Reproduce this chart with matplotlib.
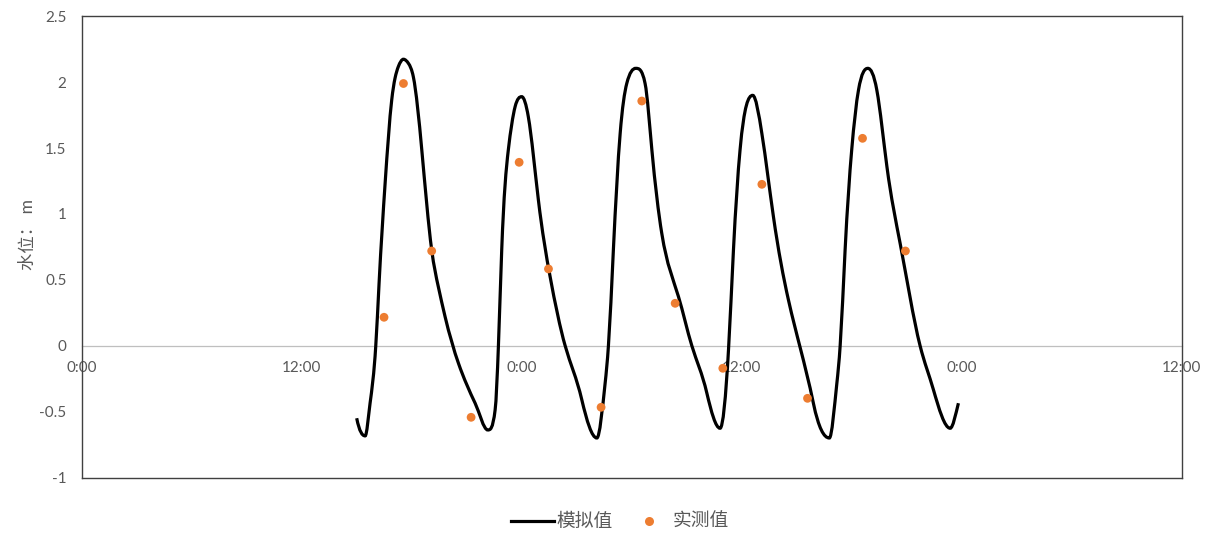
import matplotlib
matplotlib.use("Agg")
import matplotlib.pyplot as plt
import numpy as np
from matplotlib.path import Path
from matplotlib.patches import PathPatch
from matplotlib.lines import Line2D

plt.rcParams['font.family'] = ['Lato', 'Noto Sans CJK SC', 'DejaVu Sans']

# --- simulated water level (hours from first 0:00, m) ---
sim_hours = [15.0, 15.46, 15.73, 16.04, 16.22, 16.55, 16.91, 17.09, 17.27, 17.55,
             17.82, 18.09, 18.55, 19.09, 19.45, 19.82, 20.55, 21.46, 22.15, 22.55,
             22.73, 22.91, 23.27, 23.64, 24.0, 24.36, 24.91, 25.55, 26.37, 27.28,
             28.1, 28.55, 28.73, 29.0, 29.37, 29.73, 30.22, 30.73, 31.1, 31.64,
             32.55, 33.28, 34.1, 34.82, 35.28, 35.55, 35.91, 36.6, 37.1, 37.73,
             38.55, 39.2, 39.91, 40.78, 41.19, 41.37, 41.64, 42.0, 42.37, 42.88,
             43.37, 43.92, 44.64, 45.73, 46.46, 47.37, 47.82]
sim_level = [-0.55, -0.684, -0.435, 0.0, 0.474, 1.233, 1.865, 2.03, 2.118, 2.174,
             2.143, 2.04, 1.486, 0.727, 0.449, 0.221, -0.133, -0.436, -0.639, -0.487,
             0.0, 0.727, 1.486, 1.814, 1.89, 1.738, 1.106, 0.524, 0.0, -0.411,
             -0.70, -0.285, 0.0, 0.727, 1.61, 1.99, 2.105, 1.99, 1.486, 0.853,
             0.373, 0.0, -0.36, -0.626, -0.03, 0.727, 1.486, 1.90, 1.61, 0.98,
             0.347, -0.02, -0.436, -0.70, -0.285, 0.0, 0.727, 1.486, 1.94, 2.105,
             1.94, 1.36, 0.778, 0.0, -0.335, -0.626, -0.436]

# --- measured water level ---
obs_hours = [16.49, 17.55, 19.09, 21.24, 23.86, 25.46, 28.33, 30.55, 32.37, 34.97,
             37.1, 39.59, 42.59, 44.93]
obs_level = [0.216, 1.99, 0.719, -0.543, 1.392, 0.583, -0.467, 1.857, 0.322, -0.171,
             1.225, -0.399, 1.574, 0.719]

xtick_pos = [0, 12, 24, 36, 48, 60]
xtick_labels = ["0:00", "12:00", "0:00", "12:00", "0:00", "12:00"]
ytick_pos = [-1, -0.5, 0, 0.5, 1, 1.5, 2, 2.5]
ytick_labels = ["-1", "-0.5", "0", "0.5", "1", "1.5", "2", "2.5"]

tick_color = "#595959"
orange = "#ED7D31"

fig = plt.figure(figsize=(12.14, 5.36), dpi=100)
ax = fig.add_axes([0.0673, 0.1091, 0.9061, 0.8605])
ax.set_xlim(0, 60)
ax.set_ylim(-1, 2.5)

# smooth line through the readings: cubic spline slopes with a monotonicity
# filter (no wiggles between readings), drawn as Bezier segments
x = np.asarray(sim_hours)
y = np.asarray(sim_level)
n = len(x)
h = np.diff(x)
d = np.diff(y) / h
A = np.zeros((n, n))
r = np.zeros(n)
A[0, 0] = A[-1, -1] = 1.0
for i in range(1, n - 1):
    A[i, i - 1] = h[i - 1]
    A[i, i] = 2 * (h[i - 1] + h[i])
    A[i, i + 1] = h[i]
    r[i] = 6 * (d[i] - d[i - 1])
M = np.linalg.solve(A, r)
m = np.empty(n)
m[:-1] = d - h * (2 * M[:-1] + M[1:]) / 6
m[-1] = d[-1] + h[-1] * (M[-2] + 2 * M[-1]) / 6
for i in range(n):
    left = d[i - 1] if i > 0 else d[0]
    right = d[i] if i < n - 1 else d[-1]
    if left * right <= 0:
        m[i] = 0.0
    elif m[i] * right <= 0:
        m[i] = 0.0
    else:
        lim = 3 * min(abs(left), abs(right))
        m[i] = np.sign(right) * min(abs(m[i]), lim)
verts = [(x[0], y[0])]
codes = [Path.MOVETO]
for i in range(n - 1):
    verts += [(x[i] + h[i] / 3, y[i] + m[i] * h[i] / 3),
              (x[i + 1] - h[i] / 3, y[i + 1] - m[i + 1] * h[i] / 3),
              (x[i + 1], y[i + 1])]
    codes += [Path.CURVE4] * 3
ax.add_patch(PathPatch(Path(verts, codes), facecolor="none", edgecolor="black",
                       lw=2.3, zorder=3))

ax.scatter(obs_hours, obs_level, s=40, color=orange, edgecolors="none", zorder=4)

for sp in ax.spines.values():
    sp.set_color("#404040")
    sp.set_linewidth(1.0)

ax.set_xticks([])
ax.set_yticks(ytick_pos)
ax.set_yticklabels(ytick_labels)
ax.tick_params(axis="y", length=0, pad=11, labelsize=11, labelcolor=tick_color)

# horizontal axis crossing at 0
sec = ax.secondary_xaxis(0, transform=ax.transData)
sec.spines["bottom"].set_color("#bfbfbf")
sec.spines["bottom"].set_linewidth(0.9)
sec.set_xticks(xtick_pos)
sec.set_xticklabels(xtick_labels)
sec.tick_params(axis="x", length=0, pad=11, labelsize=11, labelcolor=tick_color)

ax.set_ylabel("水位： m", fontsize=12.5, color=tick_color)
ax.yaxis.set_label_coords(-0.0415, 0.526)

handles = [Line2D([], [], color="black", lw=2.3),
           Line2D([], [], color=orange, marker="o", markersize=6.5,
                  markeredgewidth=0, linestyle="none")]
fig.legend(handles, ["模拟值", "实测值"], loc="center", bbox_to_anchor=(0.5105, 0.027),
           ncol=2, frameon=False, fontsize=13.5, handlelength=2.3, handletextpad=0.1,
           columnspacing=0.8, labelcolor=tick_color)

fig.savefig("out.png", dpi=100)
